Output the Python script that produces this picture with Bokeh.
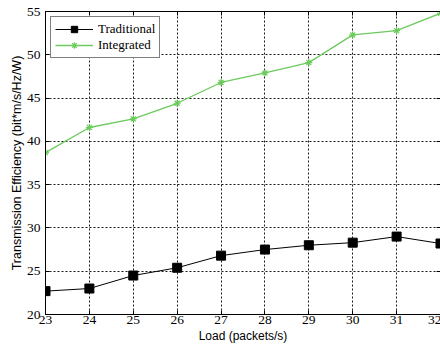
from bokeh.plotting import figure
from bokeh.models import FixedTicker, Legend, LegendItem, LinearAxis, CustomJSTickFormatter
from bokeh.embed import file_html
from bokeh.resources import INLINE

load = [23, 24, 25, 26, 27, 28, 29, 30, 31, 32]
traditional = [22.7, 23.0, 24.5, 25.4, 26.8, 27.5, 28.0, 28.3, 29.0, 28.2]
integrated = [38.7, 41.6, 42.6, 44.4, 46.8, 47.9, 49.1, 52.3, 52.8, 54.8]
x_ticks = [23, 24, 25, 26, 27, 28, 29, 30, 31, 32]
y_ticks = [20, 25, 30, 35, 40, 45, 50, 55]

GREEN = "#6BCB5C"

p = figure(width=441, height=348, x_range=(23, 32), y_range=(20, 55),
           output_backend="svg", toolbar_location=None,
           min_border_left=45, min_border_top=11, min_border_right=1, min_border_bottom=34)
p.outline_line_color = "black"
p.outline_line_width = 1
p.background_fill_color = "white"

for ax in [p.xaxis[0], p.yaxis[0]]:
    ax.major_tick_in = 4
    ax.major_tick_out = 0
    ax.minor_tick_in = 0
    ax.minor_tick_out = 0
    ax.axis_line_color = "black"
    ax.major_tick_line_color = "black"
    ax.major_label_text_font = "Liberation Serif"
    ax.major_label_text_font_size = "13.5px"
    ax.major_label_text_color = "black"
    ax.axis_label_text_font = "Liberation Sans"
    ax.axis_label_text_font_style = "normal"
    ax.axis_label_text_color = "black"

p.xaxis[0].axis_label_text_font_size = "12px"
p.yaxis[0].axis_label_text_font_size = "12.5px"
p.xaxis[0].ticker = FixedTicker(ticks=x_ticks)
p.yaxis[0].ticker = FixedTicker(ticks=y_ticks)
p.xaxis[0].axis_label = "Load (packets/s)"
p.yaxis[0].axis_label = "Transmission Efficiency (bit*m/s/Hz/W)"
p.xaxis[0].major_label_standoff = 1
p.xaxis[0].axis_label_standoff = 2
p.yaxis[0].major_label_standoff = 5
p.yaxis[0].axis_label_standoff = 0

blank = CustomJSTickFormatter(code="return '';")
top = LinearAxis(ticker=FixedTicker(ticks=x_ticks), formatter=blank, major_tick_in=4, major_tick_out=0,
                 minor_tick_in=0, minor_tick_out=0, major_label_standoff=0,
                 axis_line_color="black", major_tick_line_color="black")
right = LinearAxis(ticker=FixedTicker(ticks=y_ticks), formatter=blank, major_tick_in=4, major_tick_out=0,
                   minor_tick_in=0, minor_tick_out=0, major_label_standoff=0,
                   axis_line_color="black", major_tick_line_color="black")
p.add_layout(top, "above")
p.add_layout(right, "right")

p.xgrid.ticker = FixedTicker(ticks=x_ticks)
p.ygrid.ticker = FixedTicker(ticks=y_ticks)
for g in [p.xgrid[0], p.ygrid[0]]:
    g.grid_line_color = "black"
    g.grid_line_dash = "2 2"
    g.grid_line_width = 1
    g.grid_line_alpha = 0.9

l1 = p.line(load, traditional, line_color="black", line_width=1)
s1 = p.scatter(load, traditional, marker="square", size=9, fill_color="black", line_color="black")
l2 = p.line(load, integrated, line_color=GREEN, line_width=1.3)
s2 = p.scatter(load, integrated, marker="asterisk", size=7, line_color=GREEN, line_width=1.2)

legend = Legend(items=[LegendItem(label="Traditional", renderers=[l1, s1]),
                       LegendItem(label="Integrated", renderers=[l2, s2])],
                location="top_left")
legend.label_text_font = "Liberation Serif"
legend.label_text_font_size = "13px"
legend.label_text_color = "black"
legend.border_line_color = "black"
legend.border_line_width = 1
legend.background_fill_alpha = 1
legend.glyph_width = 38
legend.glyph_height = 16
legend.label_height = 16
legend.spacing = 0
legend.padding = 4
legend.margin = 5
legend.label_standoff = 5
p.add_layout(legend)

open("out.html", "w").write(file_html(p, INLINE))
